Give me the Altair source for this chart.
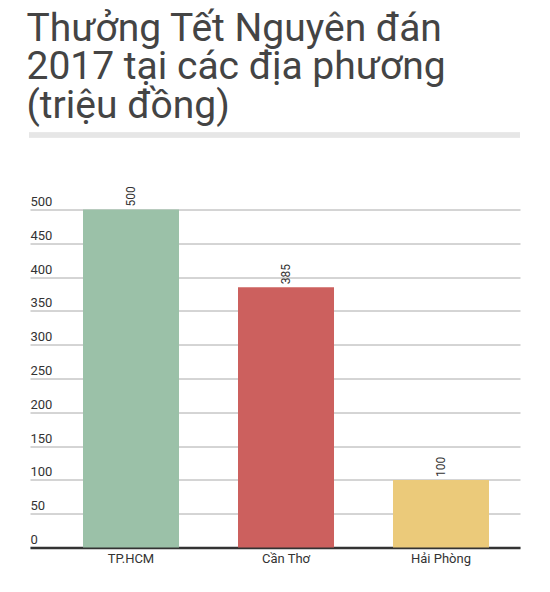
import altair as alt
import pandas as pd

# Data
regions = ["TP.HCM", "Cần Thơ", "Hải Phòng"]
bonus = [500, 385, 100]
colors = ["#9BC1A8", "#CC605E", "#EBCA7A"]
y_ticks = [0, 50, 100, 150, 200, 250, 300, 350, 400, 450, 500]
title_lines = ["Thưởng Tết Nguyên đán", "2017 tại các địa phương", "(triệu đồng)"]

df = pd.DataFrame({"region": regions, "bonus": bonus})

FONT = "Roboto"

x_enc = alt.X(
    "region:N",
    sort=regions,
    scale=alt.Scale(paddingInner=0.3806, paddingOuter=0.271, align=0.631),
    axis=alt.Axis(
        title=None,
        ticks=False,
        tickSize=0,
        labelAngle=0,
        labelPadding=5,
        labelFontSize=13,
        labelColor="#333333",
        labelFont=FONT,
        domainColor="#333333",
        domainWidth=2.5,
        grid=False,
    ),
)
y_enc = alt.Y(
    "bonus:Q",
    scale=alt.Scale(domain=[0, 500], nice=False),
    axis=alt.Axis(
        title=None,
        values=y_ticks,
        domain=False,
        ticks=False,
        tickSize=0,
        labelAlign="left",
        labelBaseline="alphabetic",
        labelPadding=0,
        labelOffset=-4,
        labelFontSize=13,
        labelColor="#333333",
        labelFont=FONT,
        labelOverlap=False,
        grid=True,
        gridColor="#aaaaaa",
        gridWidth=1,
    ),
)

base = alt.Chart(df).encode(x=x_enc, y=y_enc)

bars = base.mark_bar().encode(
    color=alt.Color("region:N", scale=alt.Scale(domain=regions, range=colors), legend=None),
)

labels = base.mark_text(
    angle=270, align="left", baseline="middle", yOffset=-3,
    fontSize=12, font=FONT, color="#333333",
).encode(
    text=alt.Text("bonus:Q"),
)

sep = alt.Chart(df).mark_rule(color="#e6e6e6", strokeWidth=5).encode(
    x=alt.value(-1), x2=alt.value(490), y=alt.value(-74.5)
)

chart = alt.layer(sep, bars, labels).properties(
    width=490,
    height=338,
    autosize=alt.AutoSizeParams(type="none"),
    padding={"left": 22, "top": 201.5, "right": 20, "bottom": 40},
    title=alt.TitleParams(
        text=title_lines,
        anchor="start",
        font=FONT,
        fontSize=39,
        fontWeight="normal",
        color="#444444",
        lineHeight=38.5,
        offset=7,
    ),
).configure_view(stroke=None)

chart.save("out.html", embed_options={"renderer": "svg", "actions": False})
